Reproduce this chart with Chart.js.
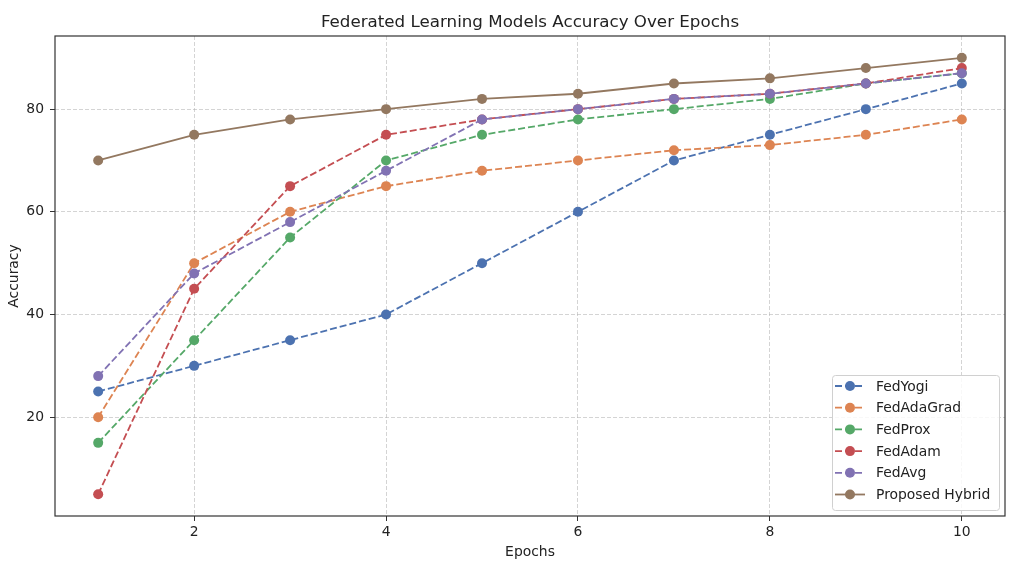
<!DOCTYPE html>
<html><head><meta charset="utf-8">
<script src="https://cdn.jsdelivr.net/npm/chart.js@4"></script>
<style>html,body{margin:0;padding:0;background:#fff}#wrap{width:1014px;height:564px;position:relative}</style>
</head><body><div id="wrap"><canvas id="c" width="1014" height="564"></canvas></div>
<script>
const epochs = [1,2,3,4,5,6,7,8,9,10];
const fedYogi = [25,30,35,40,50,60,70,75,80,85];
const fedAdaGrad = [20,50,60,65,68,70,72,73,75,78];
const fedProx = [15,35,55,70,75,78,80,82,85,87];
const fedAdam = [5,45,65,75,78,80,82,83,85,88];
const fedAvg = [28,48,58,68,78,80,82,83,85,87];
const hybrid = [70,75,78,80,82,83,85,86,88,90];
const seriesNames = ['FedYogi','FedAdaGrad','FedProx','FedAdam','FedAvg','Proposed Hybrid'];
const xTicks = [2,4,6,8,10];
const yTicks = [20,40,60,80];
const chartTitle = 'Federated Learning Models Accuracy Over Epochs';

const colors = ['#4C72B0','#DD8452','#55A868','#C44E52','#8172B3','#937860'];
const seriesData = [fedYogi,fedAdaGrad,fedProx,fedAdam,fedAvg,hybrid];
const FONT = 'DejaVu Sans';

const datasets = seriesData.map((arr,i)=>({
  label: seriesNames[i],
  data: arr.map((v,j)=>({x:epochs[j],y:v})),
  borderColor: colors[i],
  backgroundColor: colors[i],
  borderWidth: 1.8,
  borderDash: i<5 ? [7,3] : [],
  pointRadius: 5,
  pointBorderWidth: 0,
  pointBackgroundColor: colors[i],
  tension: 0,
  order: seriesData.length - i
}));

const AREA = {left:55, right:1005, top:36, bottom:516};

const framePlugin = {
  id:'frame',
  afterDraw(chart){
    const ctx = chart.ctx, a = chart.chartArea;
    ctx.save();
    ctx.strokeStyle = '#333'; ctx.lineWidth = 1.2;
    ctx.strokeRect(a.left, a.top, a.right-a.left, a.bottom-a.top);
    // title centered over plot area
    ctx.fillStyle='#222';
    ctx.font = '16.7px "'+FONT+'"';
    ctx.textAlign='center'; ctx.textBaseline='alphabetic';
    ctx.fillText(chartTitle, (a.left+a.right)/2, 27);
    // legend
    const bx=832, by=375, bw=167, bh=135;
    ctx.fillStyle='rgba(255,255,255,0.85)';
    ctx.strokeStyle='#d0d0d0'; ctx.lineWidth=1;
    ctx.beginPath();
    if (ctx.roundRect) ctx.roundRect(bx+0.5,by+0.5,bw,bh,3); else ctx.rect(bx+0.5,by+0.5,bw,bh);
    ctx.fill(); ctx.stroke();
    ctx.font = '13.9px "'+FONT+'"';
    ctx.textBaseline='middle'; ctx.textAlign='left';
    for(let i=0;i<seriesNames.length;i++){
      const y = 386 + i*21.7;
      ctx.strokeStyle=colors[i]; ctx.lineWidth=1.8;
      ctx.setLineDash(i<5?[7,3]:[]);
      ctx.beginPath(); ctx.moveTo(835,y); ctx.lineTo(865,y); ctx.stroke();
      ctx.setLineDash([]);
      ctx.fillStyle=colors[i];
      ctx.beginPath(); ctx.arc(850,y,5,0,Math.PI*2); ctx.fill();
      ctx.fillStyle='#222';
      ctx.fillText(seriesNames[i], 876, y+1);
    }
    ctx.restore();
  }
};

new Chart(document.getElementById('c'), {
  type:'line',
  data:{datasets},
  plugins:[framePlugin],
  options:{
    responsive:false, animation:false, devicePixelRatio:1,
    layout:{padding:{top:AREA.top,right:9,bottom:0,left:0}},
    plugins:{
      legend:{display:false},
      tooltip:{enabled:false},
      title:{display:false}
    },
    scales:{
      x:{type:'linear',min:0.55,max:10.45,
        afterBuildTicks(s){s.ticks=xTicks.map(v=>({value:v}));},
        afterFit(s){s.height=564-AREA.bottom;},
        grid:{color:'rgba(176,176,176,0.55)',lineWidth:1,tickLength:5,tickColor:'#333',drawTicks:true},
        border:{display:false,dash:[4,2]},
        ticks:{color:'#222',font:{family:FONT,size:13.9},padding:3,maxRotation:0,
          callback:v=>String(v)},
        title:{display:true,text:'Epochs',color:'#222',font:{family:FONT,size:13.9},padding:{top:2,bottom:3}}
      },
      y:{type:'linear',min:0.75,max:94.25,
        afterBuildTicks(s){s.ticks=yTicks.map(v=>({value:v}));},
        afterFit(s){s.width=AREA.left;},
        grid:{color:'rgba(176,176,176,0.55)',lineWidth:1,tickLength:5,tickColor:'#333'},
        border:{display:false,dash:[4,2]},
        ticks:{color:'#222',font:{family:FONT,size:13.9},padding:6,callback:v=>String(v)},
        title:{display:true,text:'Accuracy',color:'#222',font:{family:FONT,size:13.9},padding:{top:6,bottom:0}}
      }
    }
  }
});
</script></body></html>
